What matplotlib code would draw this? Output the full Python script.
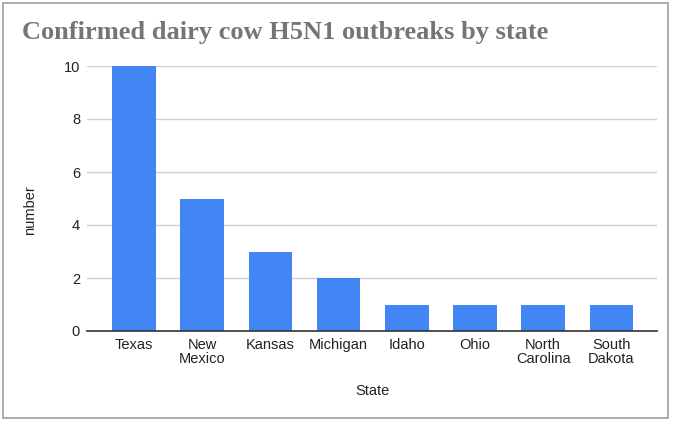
import matplotlib.pyplot as plt
from matplotlib.patches import Rectangle

# Data
states = ["Texas", "New\nMexico", "Kansas", "Michigan", "Idaho", "Ohio",
          "North\nCarolina", "South\nDakota"]
outbreaks = [10, 5, 3, 2, 1, 1, 1, 1]
y_ticks = [0, 2, 4, 6, 8, 10]

fig = plt.figure(figsize=(6.8, 4.22), dpi=100)
ax = fig.add_axes([87 / 680, 1 - 331 / 422, 570 / 680, 265 / 422])

x = range(len(states))
ax.bar(x, outbreaks, width=0.64, color="#4285F4", zorder=3)

ax.set_xlim(-0.69, 7.67)
ax.set_ylim(0, 10)
ax.set_yticks(y_ticks)
ax.set_xticks(list(x))
ax.set_xticklabels(states, fontsize=10.5, family="Liberation Sans", color="#222222",
                   linespacing=1.0)
for lab in ax.get_yticklabels():
    lab.set_fontsize(10.5)
    lab.set_family("Liberation Sans")
    lab.set_color("#222222")
ax.tick_params(length=0, pad=5)

ax.grid(axis="y", color="#d0d0d0", linewidth=1, zorder=0)
for s in ["top", "right", "left"]:
    ax.spines[s].set_visible(False)
ax.spines["bottom"].set_color("#333333")
ax.spines["bottom"].set_linewidth(1.2)
ax.spines["bottom"].set_zorder(4)

fig.text(30 / 680, 1 - 210 / 422, "number", rotation=90, ha="center", va="center",
         fontsize=10.5, family="Liberation Sans", color="#222222")
fig.text(372 / 680, 1 - 391 / 422, "State", ha="center", va="center",
         fontsize=10.5, family="Liberation Sans", color="#222222")

fig.text(22 / 680, 1 - 33 / 422, "Confirmed dairy cow H5N1 outbreaks by state",
         ha="left", va="center", fontsize=19, fontweight="bold",
         family="Liberation Serif", color="#757575")

# outer frame of the chart
fig.patches.append(Rectangle((3 / 680, 4 / 422), 665 / 680, 415 / 422,
                             transform=fig.transFigure, fill=False,
                             edgecolor="#9e9e9e", linewidth=1.2))

fig.savefig("out.png", dpi=100)
